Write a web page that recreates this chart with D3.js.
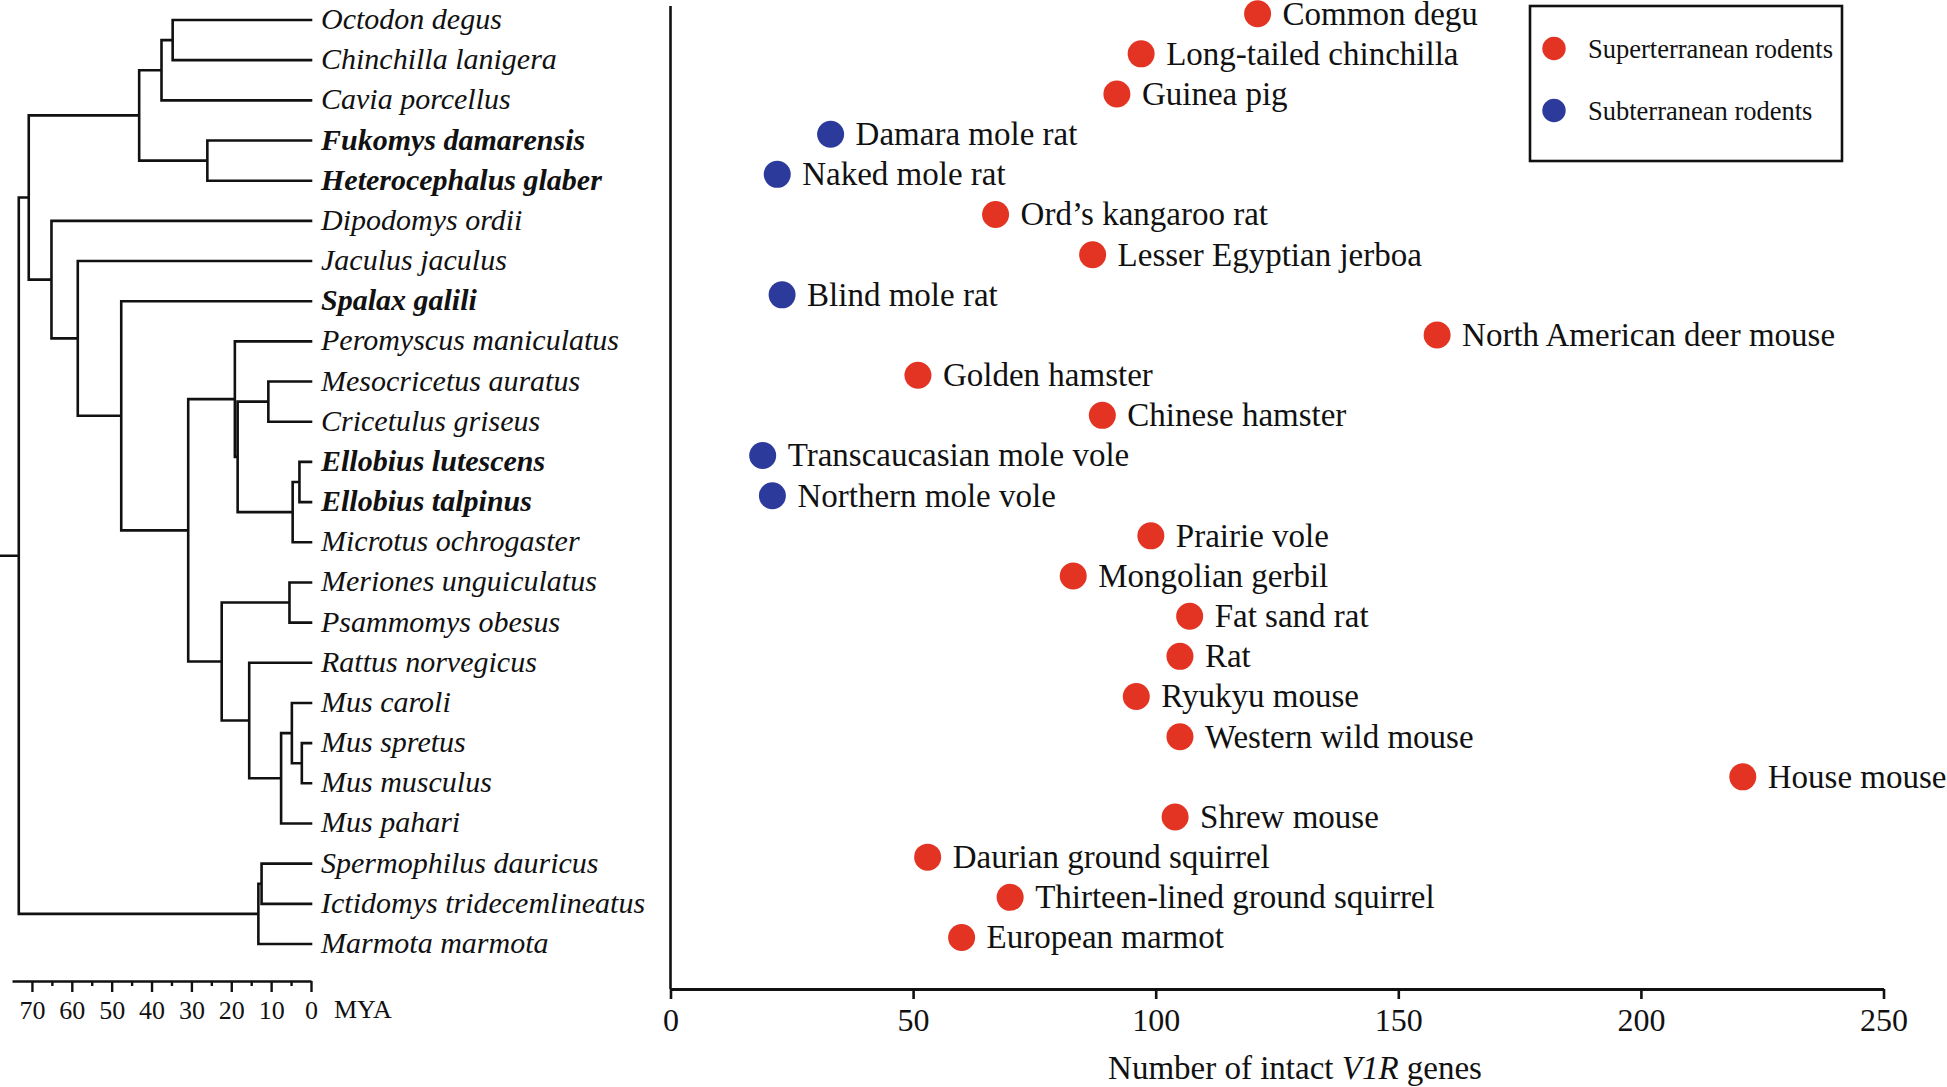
<!DOCTYPE html>
<html>
<head>
<meta charset="utf-8">
<script src="https://cdn.jsdelivr.net/npm/d3@7"></script>
<style>
  body { margin: 0; background: #fff; }
  svg text { font-family: "Liberation Serif", "Times New Roman", serif; fill: #111; }
</style>
</head>
<body>
<svg id="chart" width="1947" height="1087"></svg>
<script>
// ---------------- DATA ----------------
const species = [
  "Octodon degus", "Chinchilla lanigera", "Cavia porcellus", "Fukomys damarensis",
  "Heterocephalus glaber", "Dipodomys ordii", "Jaculus jaculus", "Spalax galili",
  "Peromyscus maniculatus", "Mesocricetus auratus", "Cricetulus griseus", "Ellobius lutescens",
  "Ellobius talpinus", "Microtus ochrogaster", "Meriones unguiculatus", "Psammomys obesus",
  "Rattus norvegicus", "Mus caroli", "Mus spretus", "Mus musculus", "Mus pahari",
  "Spermophilus dauricus", "Ictidomys tridecemlineatus", "Marmota marmota"
];
const commonNames = [
  "Common degu", "Long-tailed chinchilla", "Guinea pig", "Damara mole rat",
  "Naked mole rat", "Ord\u2019s kangaroo rat", "Lesser Egyptian jerboa", "Blind mole rat",
  "North American deer mouse", "Golden hamster", "Chinese hamster", "Transcaucasian mole vole",
  "Northern mole vole", "Prairie vole", "Mongolian gerbil", "Fat sand rat",
  "Rat", "Ryukyu mouse", "Western wild mouse", "House mouse", "Shrew mouse",
  "Daurian ground squirrel", "Thirteen-lined ground squirrel", "European marmot"
];
const v1rCounts = [121, 97, 92, 33, 22, 67, 87, 23, 158, 51, 89, 19, 21, 99, 83, 107, 105, 96, 105, 221, 104, 53, 70, 60];
const habitat = ["super","super","super","sub","sub","super","super","sub","super","super","super","sub",
                 "sub","super","super","super","super","super","super","super","super","super","super","super"];
// time tree: leaves are indices into species, internal labels are node ages (MYA)
const treeNewick = "(((((0,1)34.7,2)37.5,(3,4)26.0)43.1,(5,(6,(7,((8,((9,10)10.7,((11,12)2.9,13)4.6)18.4)19.1,((14,15)5.4,(16,((17,(18,19)2.3)4.8,20)7.5)15.5)22.4)30.8)47.6)58.5)65.1)70.8,((21,22)12.4,23)13.2)73.3";
const rootStemAge = 78;
const myaMajorTicks = [70, 60, 50, 40, 30, 20, 10, 0];
const myaMinorTicks = [65, 55, 45, 35, 25, 15, 5];
const geneTicks = [0, 50, 100, 150, 200, 250];
const legendKeys = ["super", "sub"];
const legendLabels = ["Superterranean rodents", "Subterranean rodents"];

// ---------------- STYLE ----------------
const colors = { super: "#e33322", sub: "#2c3a9c" };
const ink = "#111";

const svg = d3.select("#chart");

// ---------------- TREE ----------------
function parseNewick(s) {
  let i = 0;
  function node() {
    const n = {};
    if (s[i] === "(") {
      i++;
      n.children = [node()];
      while (s[i] === ",") { i++; n.children.push(node()); }
      i++; // ')'
    }
    let tok = "";
    while (i < s.length && !",()".includes(s[i])) tok += s[i++];
    if (n.children) n.age = +tok; else { n.leaf = +tok; n.age = 0; }
    return n;
  }
  return node();
}

const ageX = d3.scaleLinear().domain([75, 0]).range([12, 311]);
const treeY = d3.scalePoint().domain(d3.range(species.length)).range([20, 944]);

const root = d3.hierarchy(parseNewick(treeNewick));
root.eachAfter(d => {
  d.px = ageX(d.data.age);
  if (!d.children) d.py = treeY(d.data.leaf);
  else d.py = (d.children[0].py + d.children[d.children.length - 1].py) / 2;
});

const treeG = svg.append("g")
  .attr("fill", "none").attr("stroke", ink).attr("stroke-width", 2.6)
  .attr("stroke-linecap", "square");

let pathD = `M${ageX(rootStemAge)},${root.py}H${root.px}`;
root.each(d => {
  if (!d.children) return;
  const ys = d.children.map(c => c.py);
  pathD += `M${d.px},${d3.min(ys)}V${d3.max(ys)}`;
  d.children.forEach(c => { pathD += `M${d.px},${c.py}H${c.px}`; });
});
treeG.append("path").attr("d", pathD);

svg.append("g").selectAll("text").data(species).join("text")
  .attr("x", ageX(0) + 10)
  .attr("y", (d, i) => treeY(i))
  .attr("dy", "0.3em")
  .attr("font-size", 30)
  .attr("font-style", "italic")
  .attr("font-weight", (d, i) => habitat[i] === "sub" ? "bold" : "normal")
  .text(d => d);

// MYA axis
const myaY = 981;
const myaAxis = svg.append("g").attr("transform", `translate(0,${myaY})`)
  .call(d3.axisBottom(ageX).tickValues(myaMajorTicks).tickSize(11).tickSizeOuter(0).tickPadding(9));
svg.append("g").attr("transform", `translate(0,${myaY})`)
  .call(d3.axisBottom(ageX).tickValues(myaMinorTicks).tickSize(5).tickSizeOuter(0).tickFormat(""))
  .select(".domain").remove();
svg.selectAll(".tick line").attr("stroke", ink).attr("stroke-width", 2.4);
myaAxis.select(".domain").attr("stroke", ink).attr("stroke-width", 2.6);
myaAxis.selectAll("text").attr("font-size", 26).attr("font-family", "Liberation Serif").attr("fill", ink);
svg.append("text").attr("x", ageX(0) + 23).attr("y", 1018).attr("font-size", 26).text("MYA");

// ---------------- SCATTER ----------------
const xScale = d3.scaleLinear().domain([0, 250]).range([670.5, 1883.5]);
const yScale = d3.scalePoint().domain(d3.range(commonNames.length)).range([13.7, 937.5]);
const axisY = 989;

// y axis line
svg.append("line")
  .attr("x1", xScale(0)).attr("x2", xScale(0))
  .attr("y1", 6).attr("y2", axisY)
  .attr("stroke", ink).attr("stroke-width", 2.6);

const xAxisG = svg.append("g").attr("transform", `translate(0,${axisY})`)
  .call(d3.axisBottom(xScale).tickValues(geneTicks).tickSize(10).tickSizeOuter(0).tickPadding(9));
xAxisG.select(".domain").attr("stroke", ink).attr("stroke-width", 3);
xAxisG.selectAll(".tick line").attr("stroke", ink).attr("stroke-width", 2.6);
xAxisG.selectAll("text").attr("font-size", 32).attr("font-family", "Liberation Serif").attr("fill", ink);

const title = svg.append("text")
  .attr("x", (xScale(0) + xScale(250)) / 2 + 18).attr("y", 1079)
  .attr("text-anchor", "middle").attr("font-size", 33);
title.append("tspan").text("Number of intact ");
title.append("tspan").attr("font-style", "italic").text("V1R");
title.append("tspan").text(" genes");

const pts = svg.append("g").selectAll("g").data(v1rCounts).join("g")
  .attr("transform", (d, i) => `translate(${xScale(d)},${yScale(i)})`);
pts.append("circle").attr("r", 13.5).attr("fill", (d, i) => colors[habitat[i]]);
pts.append("text").attr("x", 25).attr("dy", "0.33em").attr("font-size", 33)
  .text((d, i) => commonNames[i]);

// ---------------- LEGEND ----------------
const lg = svg.append("g");
lg.append("rect").attr("x", 1530).attr("y", 6).attr("width", 312).attr("height", 155)
  .attr("fill", "none").attr("stroke", ink).attr("stroke-width", 2.6);
const li = lg.selectAll("g").data(legendKeys).join("g")
  .attr("transform", (d, i) => `translate(1554,${48.5 + i * 62})`);
li.append("circle").attr("r", 11.7).attr("fill", d => colors[d]);
li.append("text").attr("x", 34).attr("dy", "0.36em").attr("font-size", 26.5)
  .text((d, i) => legendLabels[i]);
</script>
</body>
</html>
